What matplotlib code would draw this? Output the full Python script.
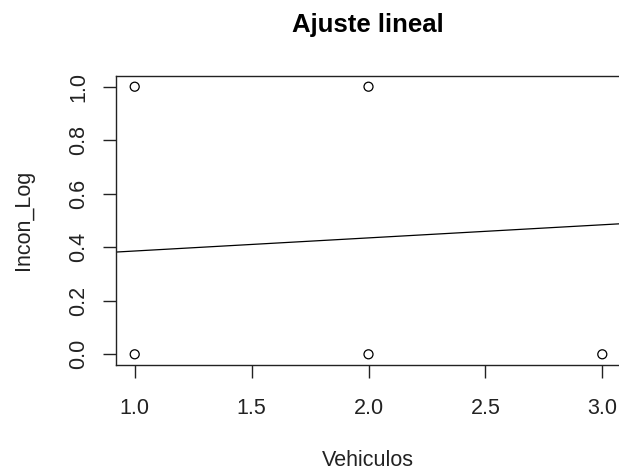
import numpy as np
import matplotlib
matplotlib.use('Agg')
import matplotlib.pyplot as plt

# datos observados
vehiculos = [1, 2, 1, 2, 3]
incon_log = [1, 1, 0, 0, 0]

# recta ajustada (intercepto, pendiente)
intercepto = 0.337
pendiente = 0.049

x_ticks = [1.0, 1.5, 2.0, 2.5, 3.0]
y_ticks = [0.0, 0.2, 0.4, 0.6, 0.8, 1.0]

plt.rcParams['font.family'] = ['Liberation Sans', 'DejaVu Sans']

W, H = 619, 470
fig = plt.figure(figsize=(W / 100, H / 100), dpi=100)
left, right, bottom, top = 116, 621, 365, 76
ax = fig.add_axes([left / W, 1 - bottom / H, (right - left) / W, (bottom - top) / H])

ax.scatter(vehiculos, incon_log, s=42, facecolors='none', edgecolors='black', linewidths=0.9, zorder=3)

xr = np.array([0.92, 3.08])
ax.plot(xr, intercepto + pendiente * xr, color='black', linewidth=0.9)

ax.set_xlim(0.92, 3.08)
ax.set_ylim(-0.04, 1.04)
ax.set_xticks(x_ticks)
ax.set_xticklabels([f'{v:.1f}' for v in x_ticks])
ax.set_yticks(y_ticks)
ax.set_yticklabels([f'{v:.1f}' for v in y_ticks], rotation=90, va='center')

# el borde derecho queda fuera de la imagen
ax.spines['right'].set_visible(False)
for s in ['left', 'bottom', 'top']:
    ax.spines[s].set_linewidth(1.0)
    ax.spines[s].set_color('#222222')
ax.tick_params(axis='both', direction='out', length=9.5, width=1.0, color='#222222',
               labelsize=15.5, labelcolor='#222222')
ax.tick_params(axis='x', pad=14)
ax.tick_params(axis='y', pad=10)

fig.text(368 / W, 1 - 25 / H, 'Ajuste lineal', ha='center', va='center',
         fontsize=18.5, fontweight='bold', color='black')
fig.text(368 / W, 1 - 460 / H, 'Vehiculos', ha='center', va='center', fontsize=15.5, color='#222222')
fig.text(24 / W, 1 - 220 / H, 'Incon_Log', ha='center', va='center', rotation=90,
         fontsize=15.5, color='#222222')

fig.savefig('out.png', dpi=100)
